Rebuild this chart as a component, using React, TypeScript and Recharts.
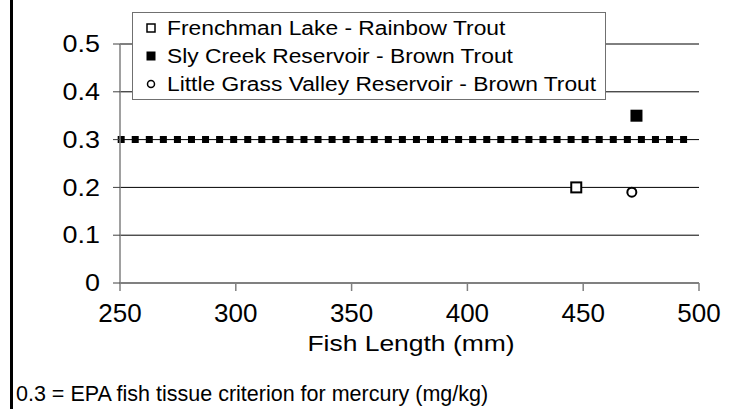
import { CartesianGrid, ReferenceLine, Scatter, ScatterChart, XAxis, YAxis } from "recharts"

const FONT = "'Liberation Sans', Arial, sans-serif"

// fish samples: length (mm) vs mercury (mg/kg)
const frenchmanLake = [{ length: 447, mercury: 0.2 }]
const slyCreek = [{ length: 473, mercury: 0.35 }]
const littleGrassValley = [{ length: 471, mercury: 0.19 }]

const xTicks = [250, 300, 350, 400, 450, 500]
const yTicks = [0, 0.1, 0.2, 0.3, 0.4, 0.5]

// EPA criterion, drawn as marker line across the sampled range
const criterion = 0.3
const criterionRange = [249, 497.5]

const legendItems = [
  { name: "Frenchman Lake - Rainbow Trout", marker: "openSquare" },
  { name: "Sly Creek Reservoir - Brown Trout", marker: "filledSquare" },
  { name: "Little Grass Valley Reservoir - Brown Trout", marker: "openCircle" },
]

const OpenSquare = (props: any) => {
  const { cx, cy } = props
  return <rect x={cx - 5} y={cy - 5} width={10} height={10} fill="#fff" stroke="#000" strokeWidth={2} />
}

const FilledSquare = (props: any) => {
  const { cx, cy } = props
  return <rect x={cx - 6} y={cy - 6} width={12} height={12} fill="#000" />
}

const OpenCircle = (props: any) => {
  const { cx, cy } = props
  return <circle cx={cx} cy={cy} r={4.5} fill="#fff" stroke="#000" strokeWidth={2} />
}

const YTick = (props: any) => {
  const { x, y, payload } = props
  return (
    <text
      x={0}
      y={0}
      transform={`translate(${x},${y}) scale(1.17,1)`}
      textAnchor="end"
      dy="0.36em"
      fontSize={23}
      fontFamily={FONT}
      fill="#000"
    >
      {String(payload.value)}
    </text>
  )
}

function LegendMarker({ kind }: { kind: string }) {
  return (
    <svg width={12} height={12} style={{ position: "absolute", left: 12, top: 4 }}>
      {kind === "openSquare" && <rect x={2} y={2} width={8} height={8} fill="#fff" stroke="#000" strokeWidth={1.5} />}
      {kind === "filledSquare" && <rect x={1.5} y={1.5} width={9} height={9} fill="#000" />}
      {kind === "openCircle" && <circle cx={6} cy={6} r={3.5} fill="#fff" stroke="#000" strokeWidth={1.5} />}
    </svg>
  )
}

export default function App() {
  return (
    <div style={{ position: "absolute", left: 0, top: 0, width: 731, height: 409, background: "#fff", fontFamily: FONT }}>
      <div style={{ position: "absolute", left: 10, top: 0, width: 3, height: 409, background: "#000" }} />

      <ScatterChart width={731} height={409} margin={{ top: 44, right: 32, bottom: 86, left: 0 }}>
        <CartesianGrid vertical={false} stroke="#000" strokeWidth={1} />
        <XAxis
          type="number"
          dataKey="length"
          domain={[250, 500]}
          ticks={xTicks}
          height={40}
          axisLine={{ stroke: "#808080", strokeWidth: 1.5 }}
          tickLine={{ stroke: "#808080", strokeWidth: 1.5 }}
          tickSize={8}
          tickMargin={13}
          tick={{ fontSize: 26, fill: "#000", fontFamily: FONT }}
        />
        <YAxis
          type="number"
          dataKey="mercury"
          domain={[0, 0.5]}
          ticks={yTicks}
          width={120}
          axisLine={{ stroke: "#808080", strokeWidth: 1.5 }}
          tickLine={{ stroke: "#404040", strokeWidth: 1 }}
          tickSize={7}
          tickMargin={13}
          tick={<YTick />}
        />
        <ReferenceLine
          segment={[
            { x: criterionRange[0], y: criterion },
            { x: criterionRange[1], y: criterion },
          ]}
          ifOverflow="visible"
          stroke="#000"
          strokeWidth={7}
          strokeDasharray="7 7.06"
        />
        <Scatter name="Frenchman Lake - Rainbow Trout" data={frenchmanLake} shape={<OpenSquare />} isAnimationActive={false} />
        <Scatter name="Sly Creek Reservoir - Brown Trout" data={slyCreek} shape={<FilledSquare />} isAnimationActive={false} />
        <Scatter name="Little Grass Valley Reservoir - Brown Trout" data={littleGrassValley} shape={<OpenCircle />} isAnimationActive={false} />
      </ScatterChart>

      {/* legend box */}
      <div
        style={{
          position: "absolute",
          left: 132,
          top: 12,
          width: 472,
          height: 86,
          background: "#fff",
          border: "1px solid #707070",
        }}
      >
        {legendItems.map((item, i) => (
          <div key={item.name} style={{ position: "absolute", left: 0, top: 5 + i * 28, height: 20, width: 470 }}>
            <LegendMarker kind={item.marker} />
            <span
              style={{
                position: "absolute",
                left: 34,
                top: 0,
                fontSize: 20,
                lineHeight: "20px",
                whiteSpace: "nowrap",
                transform: "scaleX(1.14)",
                transformOrigin: "left center",
              }}
            >
              {item.name}
            </span>
          </div>
        ))}
      </div>

      <div
        style={{
          position: "absolute",
          left: 261,
          top: 334,
          width: 300,
          textAlign: "center",
          fontSize: 21.5,
          lineHeight: 1,
          whiteSpace: "nowrap",
          transform: "scaleX(1.23)",
          transformOrigin: "center",
        }}
      >
        Fish Length (mm)
      </div>

      <div style={{ position: "absolute", left: 16, top: 384, fontSize: 21.5, lineHeight: 1, whiteSpace: "nowrap" }}>
        0.3 = EPA fish tissue criterion for mercury (mg/kg)
      </div>
    </div>
  )
}
